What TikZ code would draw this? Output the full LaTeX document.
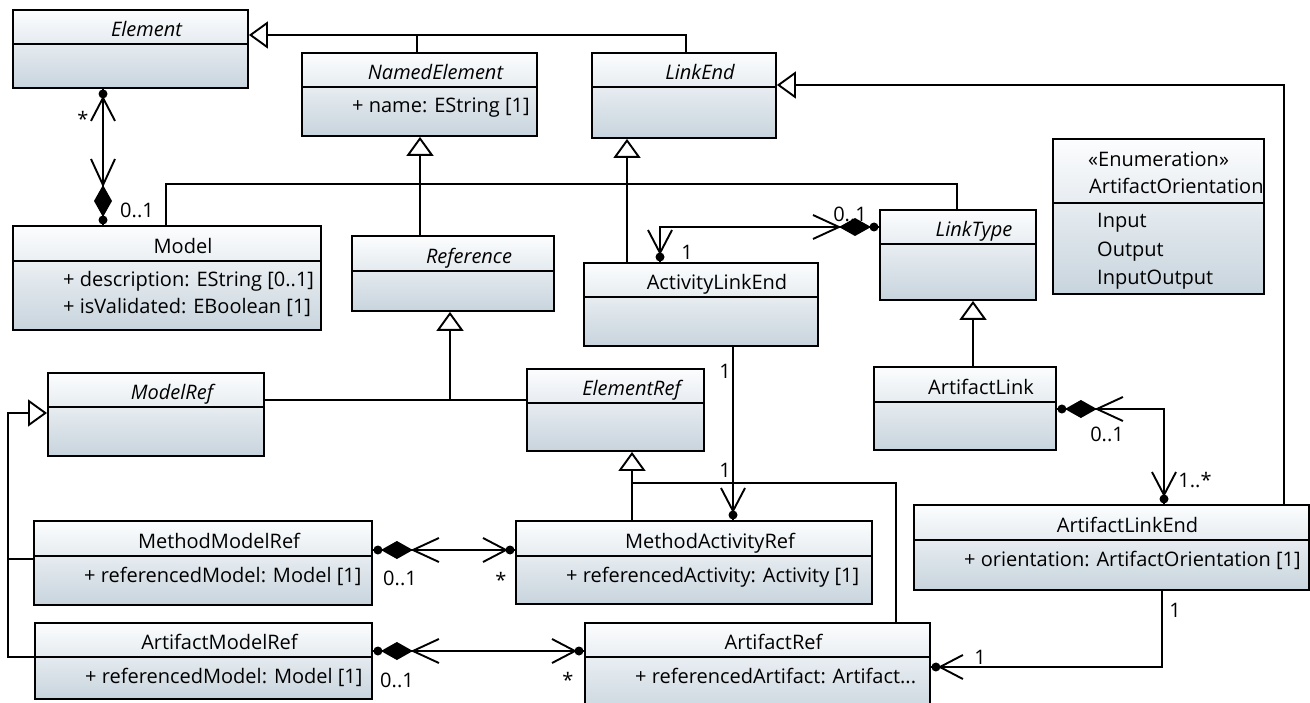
\documentclass[tikz,border=0pt]{standalone}
\usepackage{fontspec}
\setmainfont{Open Sans}
\usetikzlibrary{arrows.meta,calc}
\definecolor{boxbot}{RGB}{200,212,221}
\definecolor{boxtop}{RGB}{252,253,254}
\newcommand\diagfont{\fontsize{20}{24}\selectfont}
\tikzset{
  lw/.style={line width=1.9pt},
  umlbox/.style={draw, line width=1.9pt, top color=boxtop, bottom color=boxbot, inner sep=0pt, anchor=north west},
  gen/.style={line width=1.9pt, -{Triangle[open, fill=white, length=19pt, width=27pt]}},
  conn/.style={line width=1.9pt},
  title/.style={anchor=base, inner sep=0pt},
  ital/.style={font=\diagfont\itshape},
  attr/.style={anchor=base west, inner sep=0pt},
  mult/.style={anchor=base, inner sep=0pt},
  navend/.pic={
    \fill (5,0) circle[radius=4.5];
    \draw[line width=1.9pt] (32,12) -- (9,0) -- (32,-12);
  },
  compend/.pic={
    \fill (5,0) circle[radius=4.5];
    \fill (8,0) -- (24,9) -- (40,0) -- (24,-9) -- cycle;
    \draw[line width=1.9pt] (66,12) -- (40,0) -- (66,-12);
  }
}
% name, x1, y1, x2, y2, ydiv
\newcommand\UMLbox[6]{%
  \node[umlbox, minimum width={#4-#2}, minimum height={#5-#3}] (#1) at (#2,#3) {};
  \draw[lw] (#2,#6) -- (#4,#6);
}
% name, x1, x2, ydiv, text, style
\newcommand\UMLtitle[6]{%
  \node[title,#6] (#1) at ({(#2+#3)/2+17},{#4-7.5}) {#5};
}
\begin{document}
\begin{tikzpicture}[x=1pt,y=-1pt,font=\diagfont]
\useasboundingbox (0,0) rectangle (1310,703);
\fill[white] (0,0) rectangle (1310,703);

% ---------- boxes ----------
\UMLbox{element}{12}{9}{247}{87}{44}
\UMLtitle{element-t}{12}{247}{44}{Element}{ital}

\UMLbox{namedelement}{301}{52}{536}{135}{87}
\UMLtitle{namedelement-t}{301}{536}{87}{NamedElement}{ital}
\node[attr] (namedelement-a1) at (352,113) {+ name: EString [1]};

\UMLbox{linkend}{591}{52}{775}{137}{87}
\UMLtitle{linkend-t}{591}{775}{87}{LinkEnd}{ital}

\UMLbox{enum}{1052}{138}{1263}{293}{203}
\node[attr] (enum-s) at (1088,167) {«Enumeration»};
\node[attr] (enum-n) at (1089,194) {ArtifactOrientation};
\node[attr] (enum-1) at (1097,228) {Input};
\node[attr] (enum-2) at (1097,257) {Output};
\node[attr] (enum-3) at (1097,285) {InputOutput};

\UMLbox{model}{12}{225}{320}{329}{261}
\UMLtitle{model-t}{12}{320}{261}{Model}{}
\node[attr] (model-a1) at (63,287) {+ description: EString [0..1]};
\node[attr] (model-a2) at (63,314) {+ isValidated: EBoolean [1]};

\UMLbox{reference}{351}{235}{553}{310}{271}
\UMLtitle{reference-t}{351}{553}{271}{Reference}{ital}

\UMLbox{activitylinkend}{583}{262}{817}{345}{297}
\UMLtitle{activitylinkend-t}{583}{817}{297}{ActivityLinkEnd}{}

\UMLbox{linktype}{879}{209}{1035}{299}{244}
\UMLtitle{linktype-t}{879}{1035}{244}{LinkType}{ital}

\UMLbox{modelref}{47}{372}{263}{455}{407}
\UMLtitle{modelref-t}{47}{263}{407}{ModelRef}{ital}

\UMLbox{elementref}{526}{368}{703}{450}{403}
\UMLtitle{elementref-t}{526}{703}{403}{ElementRef}{ital}

\UMLbox{artifactlink}{873}{366}{1055}{449}{402}
\UMLtitle{artifactlink-t}{873}{1055}{402}{ArtifactLink}{}

\UMLbox{methodmodelref}{33}{520}{371}{604}{556}
\UMLtitle{methodmodelref-t}{33}{371}{556}{MethodModelRef}{}
\node[attr] (methodmodelref-a1) at (84,582) {+ referencedModel: Model [1]};

\UMLbox{methodactivityref}{515}{520}{871}{603}{556}
\UMLtitle{methodactivityref-t}{515}{871}{556}{MethodActivityRef}{}
\node[attr] (methodactivityref-a1) at (566,582) {+ referencedActivity: Activity [1]};

\UMLbox{artifactlinkend}{913}{504}{1308}{589}{540}
\UMLtitle{artifactlinkend-t}{913}{1308}{540}{ArtifactLinkEnd}{}
\node[attr] (artifactlinkend-a1) at (964,566) {+ orientation: ArtifactOrientation [1]};

\UMLbox{artifactmodelref}{34}{622}{371}{698}{657}
\UMLtitle{artifactmodelref-t}{34}{371}{657}{ArtifactModelRef}{}
\node[attr] (artifactmodelref-a1) at (85,683) {+ referencedModel: Model [1]};

\UMLbox{artifactref}{584}{622}{929}{716}{657}
\UMLtitle{artifactref-t}{584}{929}{657}{ArtifactRef}{}
\node[attr] (artifactref-a1) at (635,683) {+ referencedArtifact: Artifact...};

% ---------- generalizations ----------
\coordinate (j1) at (417,35);
\draw[gen] (namedelement.north -| 417,0) |- (element.east |- 0,35);
\draw[conn] (linkend.north -| 686,0) |- (j1);

\draw[gen] (artifactlinkend.north -| 1284,0) |- (linkend.east |- 0,85);

\coordinate (j2) at (420,184);
\draw[conn] (model.north -| 166,0) |- (j2) -| (linktype.north -| 957,0);
\draw[gen] (reference.north -| 420,0) -- (namedelement.south -| 420,0);

\draw[gen] (activitylinkend.north -| 627,0) -- (linkend.south -| 627,0);
\draw[gen] (artifactlink.north -| 973,0) -- (linktype.south -| 973,0);

\coordinate (j3) at (450,400);
\draw[conn] (modelref.east |- 0,400) -- (elementref.west |- 0,400);
\draw[gen] (j3) -- (reference.south -| 450,0);

\coordinate (j4) at (632,483);
\draw[gen] (methodactivityref.north -| 632,0) -- (elementref.south -| 632,0);
\draw[conn] (j4) -| (artifactref.north -| 896,0);

\coordinate (j5) at (8,413);
\coordinate (j6) at (8,559);
\draw[gen] (artifactmodelref.west |- 0,657) -| (j5) -- (modelref.west |- 0,413);
\draw[conn] (methodmodelref.west |- 0,559) -- (j6);

% ---------- associations ----------
\draw[conn] (element.south -| 103,0) -- (model.north -| 103,0);
\pic[rotate=-90] at (element.south -| 103,0) {navend};
\pic[rotate=90] at (model.north -| 103,0) {compend};

\draw[conn] (activitylinkend.north -| 660,0) |- (linktype.west |- 0,227);
\pic[rotate=90] at (activitylinkend.north -| 660,0) {navend};
\pic[rotate=180] at (linktype.west |- 0,227) {compend};

\draw[conn] (activitylinkend.south -| 733,0) -- (methodactivityref.north -| 733,0);
\pic[rotate=90] at (methodactivityref.north -| 733,0) {navend};

\draw[conn] (methodmodelref.east |- 0,550) -- (methodactivityref.west |- 0,550);
\pic at (methodmodelref.east |- 0,550) {compend};
\pic[rotate=180] at (methodactivityref.west |- 0,550) {navend};

\draw[conn] (artifactmodelref.east |- 0,651) -- (artifactref.west |- 0,651);
\pic at (artifactmodelref.east |- 0,651) {compend};
\pic[rotate=180] at (artifactref.west |- 0,651) {navend};

\draw[conn] (artifactlink.east |- 0,409) -| (artifactlinkend.north -| 1164,0);
\pic at (artifactlink.east |- 0,409) {compend};
\pic[rotate=90] at (artifactlinkend.north -| 1164,0) {navend};

\draw[conn] (artifactlinkend.south -| 1162,0) |- (artifactref.east |- 0,667);
\pic at (artifactref.east |- 0,667) {navend};

% ---------- multiplicities ----------
\node[mult] (m1) at (83,127) {*};
\node[mult] (m2) at (137,218) {0..1};
\node[mult] (m3) at (687,260) {1};
\node[mult] (m4) at (850,222) {0..1};
\node[mult] (m5) at (725,378) {1};
\node[mult] (m6) at (725,477) {1};
\node[mult] (m7) at (400,585) {0..1};
\node[mult] (m8) at (501,587) {*};
\node[mult] (m9) at (397,687) {0..1};
\node[mult] (m10) at (568,687) {*};
\node[mult] (m11) at (1107,442) {0..1};
\node[mult] (m12) at (1195,487) {1..*};
\node[mult] (m13) at (1175,617) {1};
\node[mult] (m14) at (980,664) {1};
\end{tikzpicture}
\end{document}
